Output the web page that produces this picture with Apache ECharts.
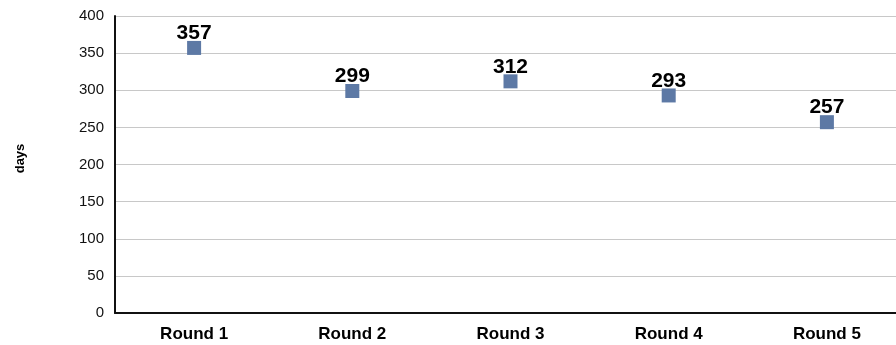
<!DOCTYPE html>
<html>
<head>
<meta charset="utf-8">
<script src="https://cdn.jsdelivr.net/npm/echarts@6/dist/echarts.min.js"></script>
<style>
  html, body { margin: 0; padding: 0; background: #fff; }
  #chart { width: 896px; height: 345px; }
</style>
</head>
<body>
<div id="chart"></div>
<script>
var categories = ['Round 1', 'Round 2', 'Round 3', 'Round 4', 'Round 5'];
var days = [357, 299, 312, 293, 257];
var yTicks = [0, 50, 100, 150, 200, 250, 300, 350, 400];

var chart = echarts.init(document.getElementById('chart'));
var option = {
    animation: false,
    grid: { left: 115, width: 791, top: 16, bottom: 32, outerBoundsMode: 'none', containLabel: false },
    xAxis: {
        type: 'category',
        data: categories,
        boundaryGap: true,
        axisLine: { lineStyle: { color: '#111', width: 2 } },
        axisTick: { show: false },
        axisLabel: {
            color: '#000', fontSize: 17, fontWeight: 'bold',
            fontFamily: 'Liberation Sans, Arial', margin: 13
        }
    },
    yAxis: {
        type: 'value',
        min: yTicks[0],
        max: yTicks[yTicks.length - 1],
        interval: 50,
        name: 'days',
        nameLocation: 'middle',
        nameGap: 88,
        nameTextStyle: {
            color: '#000', fontSize: 13, fontWeight: 'bold',
            fontFamily: 'Liberation Sans, Arial', padding: [0, 0, 0, 12]
        },
        axisLine: { show: true, lineStyle: { color: '#111', width: 2 } },
        axisTick: { show: false },
        splitLine: { lineStyle: { color: '#c8c8c8', width: 1 } },
        axisLabel: { color: '#111', fontSize: 15, fontFamily: 'Liberation Sans, Arial', margin: 11 }
    },
    series: [{
        type: 'scatter',
        data: days,
        symbol: 'rect',
        symbolSize: 14,
        itemStyle: { color: '#5d79a5', opacity: 1 },
        label: {
            show: true,
            position: 'top',
            distance: -3,
            color: '#000',
            fontSize: 21,
            fontWeight: 'bold',
            fontFamily: 'Liberation Sans, Arial'
        }
    }]
};
chart.setOption(option);
</script>
</body>
</html>
